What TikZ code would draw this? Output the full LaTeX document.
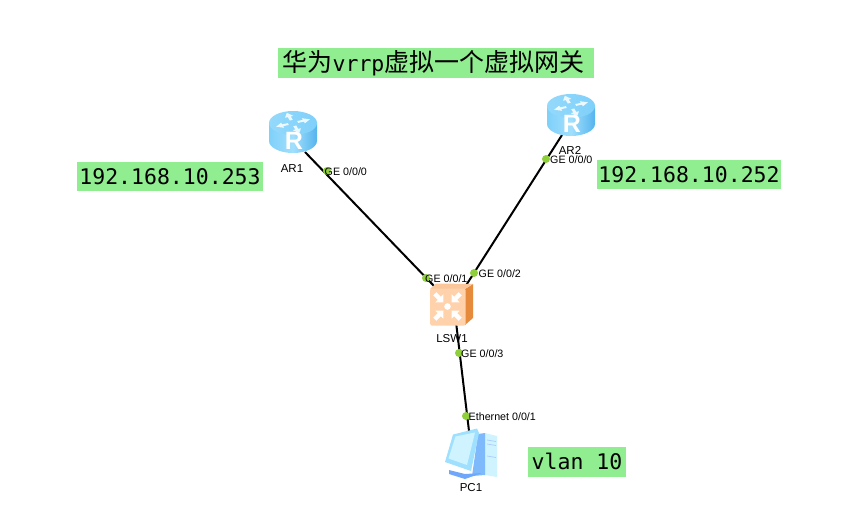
\documentclass[tikz,border=0pt]{standalone}
\usepackage{fontspec}
\setmainfont{Liberation Sans}
\newfontfamily\cjkf{Noto Sans CJK SC}
\newfontfamily\monof{DejaVu Sans Mono}
\definecolor{boxgreen}{HTML}{90EE90}
\definecolor{dotgreen}{HTML}{8FCF3C}
\definecolor{rlight}{HTML}{C4EEFF}
\definecolor{rmid}{HTML}{7FD0FA}
\definecolor{rdark}{HTML}{55B4EE}
\definecolor{oface}{HTML}{FFD2AC}
\definecolor{oedge}{HTML}{FBC79A}
\definecolor{oside}{HTML}{E68A3C}
\definecolor{pclight}{HTML}{CFF4FF}
\definecolor{pcmid}{HTML}{A0E0FF}
\definecolor{pcblue}{HTML}{6FA8FA}
\tikzset{
  x=1pt,y=-1pt,
  greenbox/.style={fill=boxgreen,inner sep=0pt,text=black},
  monotxt/.style={greenbox,font=\monof\fontsize{21.5}{24}\selectfont},
  devlabel/.style={inner sep=0pt,text=black,font=\fontsize{11.5}{13}\selectfont},
  portlabel/.style={inner sep=0pt,anchor=west,text=black,font=\fontsize{10.7}{12}\selectfont},
  portdot/.style={circle,fill=dotgreen,inner sep=0pt,minimum size=8pt},
  linkline/.style={draw=black,line width=2pt},
  devbox/.style={inner sep=0pt,minimum width=#1},
  router/.pic={
    \path[left color=rmid,right color=rdark,middle color=rlight!50!rmid]
      (-24,-9) -- (-24,9) .. controls (-24,15.6) and (-13,21) .. (0,21)
      .. controls (13,21) and (24,15.6) .. (24,9) -- (24,-9) -- cycle;
    \path[left color=rmid!70!rlight,right color=rmid] (0,-9) ellipse[x radius=24pt,y radius=12pt];
    \foreach \a in {20,110,200,290}{
      \begin{scope}[shift={(0,-9)},yscale=0.6,rotate=\a]
        \fill[white,opacity=0.85] (5,-1.6) -- (11,-1.6) -- (11,-4.5) -- (18,0) -- (11,4.5) -- (11,1.6) -- (5,1.6) -- cycle;
      \end{scope}
    }
    \node[inner sep=0pt,text=white,font=\bfseries\fontsize{25}{26}\selectfont] at (1,9) {R};
  },
}
\begin{document}
\begin{tikzpicture}
\useasboundingbox[fill=white] (0,0) rectangle (865,532);
\node[devbox=48pt,minimum height=42pt] (AR1) at (293,132) {};
\node[devbox=48pt,minimum height=42pt] (AR2) at (571,115) {};
\node[devbox=44pt,minimum height=42pt] (LSW1) at (451,305) {};
\node[devbox=50pt,minimum height=56pt] (PC1) at (473,457) {};
\coordinate (a1) at (305,152);
\coordinate (a2) at (562,135);
\coordinate (s1) at (435,287);
\coordinate (s2) at (465,287);
\coordinate (s3) at (456,322);
\coordinate (p1) at (469,431);
% links
\draw[linkline] (a1) -- (s1);
\draw[linkline] (a2) -- (s2);
\draw[linkline] (s3) -- (p1);
% routers
\path (293,132) pic {router};
\path (571,115) pic {router};
% switch
\fill[oside] (465,289) -- (473,284) -- (473,318) -- (465,325) -- cycle;
\fill[oedge] (430,289) -- (436,283.5) -- (473,284) -- (465,289) -- cycle;
\fill[rounded corners=1.5pt,oface] (430,288.5) rectangle (465.5,325.5);
\foreach \a in {45,135,225,315}{
  \begin{scope}[shift={(447.5,306.5)},rotate=\a]
    \fill[white] (6,0) -- (11.5,-5.5) -- (11.5,-2.2) -- (18,-2.2) -- (18,2.2) -- (11.5,2.2) -- (11.5,5.5) -- cycle;
  \end{scope}
}
\fill[white] (447.5,306.5) circle[radius=3.3pt];
% PC
\fill[pclight] (485,433) -- (497,436) -- (497,477) -- (485,475) -- cycle;
\fill[pcblue!70!pcmid] (478,434) -- (485,433) -- (485,475) -- (472,476) -- cycle;
\draw[pcblue!60!white,line width=0.7pt] (487,440) -- (496,441.5) (487,444) -- (496,445.5) (487,456) -- (496,457.5);
\fill[pcblue] (449,470) -- (465,474) -- (482,473) -- (465,479) -- (449,474) -- cycle;
\fill[pcmid] (453,434.5) -- (477,428.5) -- (479,433) -- (471,471) -- (445,462) -- cycle;
\fill[pclight] (455.5,436.5) -- (475,432.5) -- (467,465) -- (448.5,458.5) -- cycle;
% device labels
\node[devlabel] (lAR1) at (292,169) {AR1};
\node[devlabel] (lAR2) at (570,150) {AR2};
\node[devlabel] (lLSW) at (452,339) {LSW1};
\node[devlabel] (lPC) at (471,488) {PC1};
% port dots
\node[portdot] (d1) at (327,171) {};
\node[portdot] (d2) at (546,159) {};
\node[portdot] (d3) at (426,278) {};
\node[portdot] (d4) at (474,273) {};
\node[portdot] (d5) at (459,353) {};
\node[portdot] (d6) at (466,416) {};
% port labels
\node[portlabel] (t1) at (324.5,171.5) {GE 0/0/0};
\node[portlabel] (t2) at (550,160) {GE 0/0/0};
\node[portlabel] (t3) at (425,279) {GE 0/0/1};
\node[portlabel] (t4) at (478.5,274) {GE 0/0/2};
\node[portlabel] (t5) at (461,354) {GE 0/0/3};
\node[portlabel] (t6) at (468.5,417) {Ethernet 0/0/1};
% green captions
\node[greenbox,minimum width=316pt,minimum height=30pt] (title) at (436,63)
  {\raisebox{1.5pt}{\hbox{\cjkf\fontsize{25}{26}\selectfont 华为{\monof\fontsize{21.5}{24}\selectfont vrrp}虚拟一个虚拟网关\kern5pt}}};
\node[monotxt,minimum width=186pt,minimum height=29pt] (ip1) at (170,176.5) {192.168.10.253};
\node[monotxt,minimum width=184pt,minimum height=29pt] (ip2) at (689,174.5) {192.168.10.252};
\node[monotxt,minimum width=98pt,minimum height=30pt] (vlan) at (577,461.5) {vlan 10};
\end{tikzpicture}
\end{document}
